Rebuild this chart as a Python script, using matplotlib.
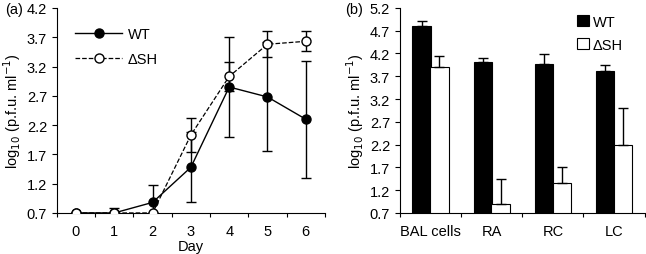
import numpy as np
import matplotlib.pyplot as plt

plt.rcParams['font.family'] = ['Liberation Sans', 'DejaVu Sans']
plt.rcParams['font.size'] = 10.5

# (a) time course
days = [0, 1, 2, 3, 4, 5, 6]
wt_mean = [0.7, 0.7, 0.88, 1.48, 2.85, 2.68, 2.3]
wt_err = [0.0, 0.08, 0.3, 0.6, 0.85, 0.93, 1.0]
dsh_mean = [0.7, 0.7, 0.7, 2.03, 3.03, 3.58, 3.63]
dsh_err = [0.0, 0.0, 0.0, 0.29, 0.25, 0.22, 0.17]

# (b) tissues
tissues = ['BAL cells', 'RA', 'RC', 'LC']
wt_bar = [4.8, 4.02, 3.97, 3.82]
wt_bar_err = [0.12, 0.07, 0.22, 0.12]
dsh_bar = [3.9, 0.9, 1.35, 2.2]
dsh_bar_err = [0.25, 0.55, 0.35, 0.8]

fig = plt.figure(figsize=(6.46, 2.55), dpi=100)
ax1 = fig.add_axes([0.088, 0.161, 0.415, 0.804])
ax2 = fig.add_axes([0.619, 0.161, 0.379, 0.804])

# panel a
ax1.errorbar(days, wt_mean, yerr=wt_err, color='black', lw=1, marker='o',
             ms=6.5, mfc='black', mec='black', capsize=3.5, elinewidth=1,
             label='WT', zorder=2)
ax1.errorbar(days, dsh_mean, yerr=dsh_err, color='black', lw=0.9, ls='--',
             marker='o', ms=6.5, mfc='white', mec='black', capsize=3.5,
             elinewidth=1, label='ΔSH', zorder=3)
ax1.set_xlim(-0.5, 6.5)
ax1.set_ylim(0.7, 4.2)
ax1.set_xticks(np.arange(-0.5, 6.6, 1.0))
ax1.set_xticklabels([])
ax1.set_xticks(days, minor=True)
ax1.set_xticklabels([str(d) for d in days], minor=True)
ax1.tick_params(axis='x', which='minor', length=0, pad=8)
ax1.tick_params(axis='x', which='major', length=3)
ax1.set_yticks(np.arange(0.7, 4.21, 0.5))
ax1.set_yticklabels([f'{v:.1f}' for v in np.arange(0.7, 4.21, 0.5)])
ax1.set_xlabel('Day', labelpad=1)
ax1.set_ylabel('log$_{10}$ (p.f.u. ml$^{-1}$)', labelpad=3)
ax1.spines['top'].set_visible(False)
ax1.spines['right'].set_visible(False)
h, l = ax1.get_legend_handles_labels()
h = [x[0] for x in h]
ax1.legend(h, l, loc='upper left', bbox_to_anchor=(0.02, 0.97), frameon=False,
           handlelength=3.2, handletextpad=0.4, labelspacing=0.75)
fig.text(0.008, 0.945, '(a)')

# panel b
x = np.arange(len(tissues)) + 0.5
w = 0.3
ax2.bar(x - 0.145, wt_bar, width=w, bottom=0, color='black', edgecolor='black',
        lw=0.8, label='WT')
ax2.errorbar(x - 0.145, wt_bar, yerr=[[0] * 4, wt_bar_err], fmt='none',
             ecolor='black', elinewidth=1, capsize=3.5)
ax2.bar(x + 0.145, dsh_bar, width=w, color='white', edgecolor='black', lw=0.8,
        label='ΔSH')
ax2.errorbar(x + 0.145, dsh_bar, yerr=[[0] * 4, dsh_bar_err], fmt='none',
             ecolor='black', elinewidth=1, capsize=3.5)
ax2.set_xlim(0, 4)
ax2.set_ylim(0.7, 5.2)
ax2.set_xticks([0, 1, 2, 3, 4])
ax2.set_xticklabels([])
ax2.set_xticks(x, minor=True)
ax2.set_xticklabels(tissues, minor=True)
ax2.tick_params(axis='x', which='minor', length=0, pad=8)
ax2.tick_params(axis='x', which='major', length=3)
ax2.set_yticks(np.arange(0.7, 5.21, 0.5))
ax2.set_yticklabels([f'{v:.1f}' for v in np.arange(0.7, 5.21, 0.5)])
ax2.set_ylabel('log$_{10}$ (p.f.u. ml$^{-1}$)', labelpad=3)
ax2.spines['top'].set_visible(False)
ax2.spines['right'].set_visible(False)
ax2.legend(loc='upper left', bbox_to_anchor=(0.67, 1.03), frameon=False,
           handlelength=0.8, handleheight=0.8, handletextpad=0.3,
           labelspacing=0.6)
fig.text(0.535, 0.945, '(b)')

fig.savefig('out.png', dpi=100)
